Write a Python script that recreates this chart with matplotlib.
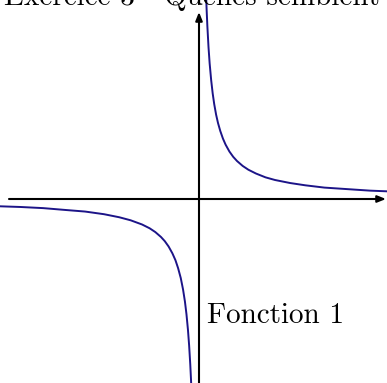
import matplotlib
matplotlib.use("Agg")
import matplotlib.pyplot as plt

# points (units: 1 unit ~ 38 px)
right_x = [0.19, 0.2, 0.22, 0.25, 0.28, 0.32, 0.36, 0.4, 0.45, 0.5, 0.56, 0.63,
           0.7, 0.8, 0.9, 1.0, 1.15, 1.3, 1.5, 1.75, 2.0, 2.4, 2.8, 3.3, 3.9, 4.5, 5.0]
right_y = [5.26, 5.0, 4.55, 4.0, 3.57, 3.13, 2.78, 2.5, 2.22, 2.0, 1.79, 1.59,
           1.43, 1.25, 1.11, 1.0, 0.87, 0.77, 0.67, 0.57, 0.5, 0.42, 0.36, 0.3, 0.26, 0.22, 0.2]
left_x = [-5.3, -4.7, -4.1, -3.5, -3.0, -2.5, -2.1, -1.8, -1.5, -1.3, -1.15, -1.0,
          -0.9, -0.8, -0.7, -0.62, -0.55, -0.48, -0.42, -0.37, -0.33, -0.29,
          -0.26, -0.23, -0.21, -0.2]
left_y = [-0.19, -0.21, -0.24, -0.29, -0.33, -0.4, -0.48, -0.56, -0.67, -0.77,
          -0.87, -1.0, -1.11, -1.25, -1.43, -1.61, -1.82, -2.08, -2.38, -2.7,
          -3.03, -3.45, -3.85, -4.35, -4.76, -5.0]

title = "Exercice 3 - Quelles semblent"
label = "Fonction 1"

W, H = 387, 383
ox, oy = 199, 199  # origin in pixels from top-left
scale = 38.0

fig = plt.figure(figsize=(W / 100, H / 100), dpi=100)
ax = fig.add_axes([0, 0, 1, 1])
ax.set_xlim(-ox / scale, (W - ox) / scale)
ax.set_ylim(-(H - oy) / scale, oy / scale)
ax.axis("off")

curve_color = "#1c1488"
ax.plot(right_x, right_y, color=curve_color, lw=1.4, solid_capstyle="butt")
ax.plot(left_x, left_y, color=curve_color, lw=1.4, solid_capstyle="butt")

# axes with arrows
arrow = dict(arrowstyle="-|>,head_length=0.5,head_width=0.2", color="black",
             lw=1.5, shrinkA=0, shrinkB=0)
ax.annotate("", xy=((W - 1 - ox) / scale, 0), xytext=((9 - ox) / scale, 0),
            arrowprops=arrow)
ax.annotate("", xy=(0, (oy - 12) / scale), xytext=(0, -(H + 5 - oy) / scale),
            arrowprops=arrow)

ax.text((207 - ox) / scale, (oy - 323) / scale, label, family="cmr10",
        fontsize=21, va="baseline", ha="left")

# title is cut off by the top edge, as in the reference
fig.text(4 / W, 1 - 5 / H, title, family="cmr10", fontsize=21,
         va="baseline", ha="left")

fig.savefig("out.png", dpi=100)
